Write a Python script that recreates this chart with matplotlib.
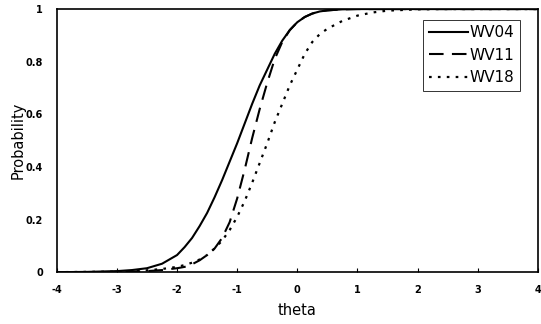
import matplotlib

matplotlib.use("Agg")
import matplotlib.pyplot as plt

# values
theta = [-4, -3.5, -3, -2.75, -2.5, -2.25, -2, -1.875, -1.75, -1.625, -1.5, -1.375,
         -1.25, -1.125, -1, -0.875, -0.75, -0.625, -0.5, -0.375, -0.25, -0.125,
         0, 0.125, 0.25, 0.375, 0.5, 0.75, 1, 1.25, 1.5, 2, 2.5, 3, 4]

wv04 = [0, 0.001, 0.004, 0.008, 0.015, 0.032, 0.065, 0.095, 0.13, 0.175, 0.225, 0.285,
        0.35, 0.42, 0.49, 0.565, 0.64, 0.71, 0.77, 0.83, 0.88, 0.92,
        0.95, 0.97, 0.983, 0.991, 0.995, 0.999, 1.0, 1.0, 1.0, 1.0, 1.0, 1.0, 1.0]

wv11 = [0, 0, 0.001, 0.002, 0.004, 0.008, 0.015, 0.02, 0.03, 0.045, 0.065, 0.09,
        0.13, 0.19, 0.28, 0.39, 0.51, 0.62, 0.72, 0.81, 0.875, 0.92,
        0.95, 0.97, 0.983, 0.991, 0.995, 0.999, 1.0, 1.0, 1.0, 1.0, 1.0, 1.0, 1.0]

wv18 = [0, 0.001, 0.002, 0.004, 0.007, 0.012, 0.02, 0.027, 0.036, 0.048, 0.065, 0.09,
        0.12, 0.16, 0.21, 0.27, 0.34, 0.415, 0.49, 0.57, 0.64, 0.71,
        0.77, 0.83, 0.875, 0.905, 0.925, 0.955, 0.975, 0.987, 0.994, 0.999, 1.0, 1.0, 1.0]

x_ticks = [-4, -3, -2, -1, 0, 1, 2, 3, 4]
y_ticks = [0, 0.2, 0.4, 0.6, 0.8, 1]
y_labels = ["0", "0.2", "0.4", "0.6", "0.8", "1"]

fig = plt.figure(figsize=(5.41, 3.24), dpi=100)
ax = fig.add_axes([0.105, 0.160, 0.889, 0.812])

ax.plot(theta, wv04, color="black", linewidth=1.5, label="WV04")
ax.plot(theta, wv11, color="black", linewidth=1.5, dashes=(7, 4), label="WV11")
ax.plot(theta, wv18, color="black", linewidth=1.6, dashes=(1.2, 2.8), label="WV18")

ax.set_xlim(-4, 4)
ax.set_ylim(0, 1)
ax.set_xticks(x_ticks)
ax.set_xticklabels([str(t) for t in x_ticks], fontsize=7, fontweight="bold")
ax.set_yticks(y_ticks)
ax.set_yticklabels(y_labels, fontsize=7, fontweight="bold")
ax.tick_params(axis="x", direction="in", length=3, width=0.8, pad=9)
ax.tick_params(axis="y", length=0, pad=10)
for s in ax.spines.values():
    s.set_linewidth(1.2)

ax.set_xlabel("theta", fontsize=10.5, labelpad=6)
ax.set_ylabel("Probability", fontsize=10.5, labelpad=0)

leg = ax.legend(loc="upper right", bbox_to_anchor=(0.963, 0.96), fontsize=11,
                frameon=True, fancybox=False, handlelength=2.6, handletextpad=0.1,
                borderpad=0.35, labelspacing=0.5, borderaxespad=0)
leg.get_frame().set_edgecolor("black")
leg.get_frame().set_linewidth(0.7)

fig.savefig("out.png", dpi=100)
